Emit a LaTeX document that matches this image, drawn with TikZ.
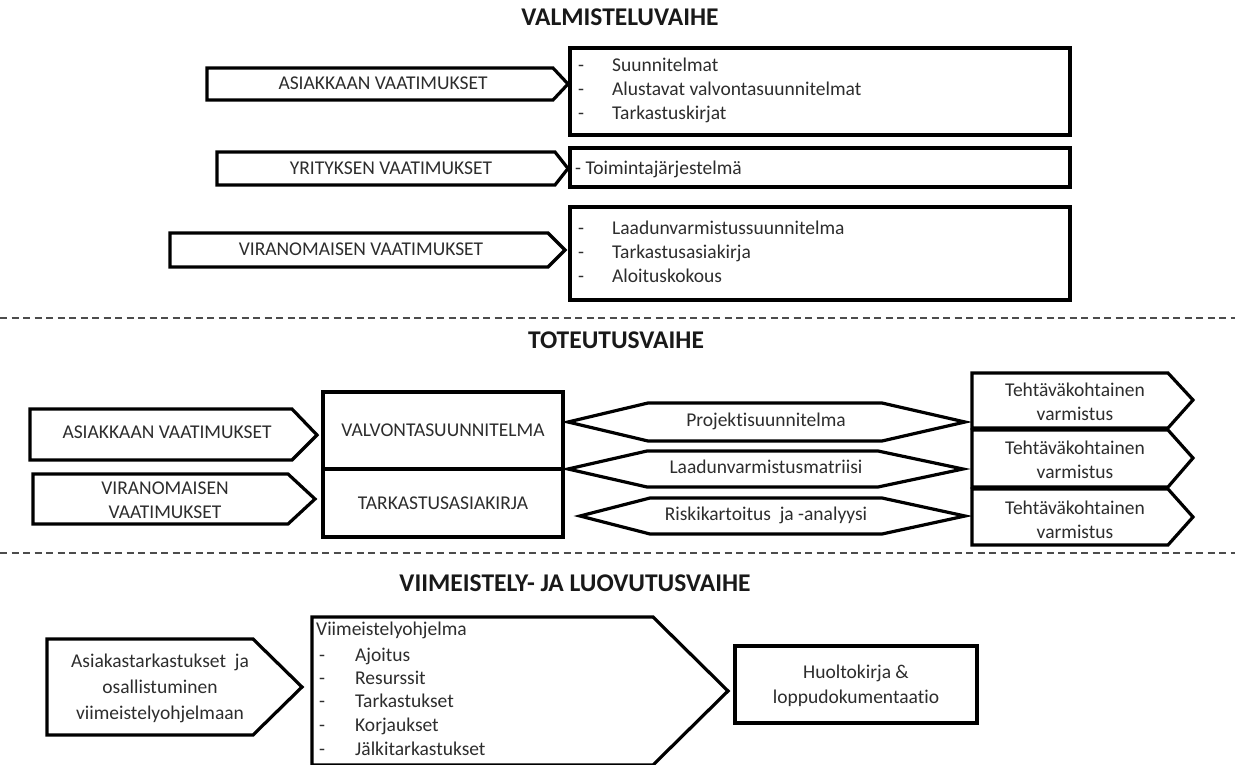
\documentclass[tikz,border=0pt]{standalone}
\usepackage{fontspec}
\setmainfont[Ligatures=NoCommon]{Carlito}
\definecolor{txtgray}{RGB}{45,45,45}
% pentagon arrow: left, top, shoulder x, tip x, tip y, bottom
\newcommand\pentarrow[6]{%
  \draw[outline] (#1,#2) -- (#3,#2) -- (#4,#5) -- (#3,#6) -- (#1,#6) -- cycle;}
% hexagon: left tip x, left tip y, left shoulder, right shoulder, right tip x, top, bottom
\newcommand\hexshape[7]{%
  \draw[outline] (#1,#2) -- (#3,#6) -- (#4,#6) -- (#5,#2) -- (#4,#7) -- (#3,#7) -- cycle;}
\begin{document}
\begin{tikzpicture}[x=1pt,y=-1pt,
  outline/.style={draw=black,line width=3.2pt,fill=white,line join=miter},
  lbl/.style={inner sep=0pt,font=\fontsize{19.5}{24.5}\selectfont,text=txtgray,align=center},
  one/.style={lbl,text height=13pt,text depth=4pt},
  item/.style={one,anchor=west},
  title/.style={inner sep=0pt,font=\bfseries\fontsize{25.5}{30}\selectfont,text=black!90,text height=17pt,text depth=5pt},
  sep/.style={draw=black!70,line width=1.3pt,dash pattern=on 7pt off 4.5pt}]
\useasboundingbox (0,0) rectangle (1235,765);

% ---------- preparation phase ----------
\node[title] (t1) at (620,20) {VALMISTELUVAIHE};

\pentarrow{207}{68}{553}{568}{84}{100}
\pentarrow{217}{152}{555}{568}{168.5}{185}
\pentarrow{170}{233}{548}{565}{250}{267}
\draw[outline] (570,48) rectangle (1070,135);
\draw[outline] (570,148) rectangle (1070,187);
\draw[outline] (570,207) rectangle (1070,300);

\node[one] (p1) at (383,85) {ASIAKKAAN VAATIMUKSET};
\node[one] (p2) at (391,170) {YRITYKSEN VAATIMUKSET};
\node[one] (p3) at (361,251) {VIRANOMAISEN VAATIMUKSET};

\node[item] (d11) at (578,67) {-};
\node[item] (d12) at (578,91) {-};
\node[item] (d13) at (578,115) {-};
\node[item] (i11) at (612,67) {Suunnitelmat};
\node[item] (i12) at (612,91) {Alustavat valvontasuunnitelmat};
\node[item] (i13) at (612,115) {Tarkastuskirjat};

\node[item] (i21) at (575,170) {- Toimintajärjestelmä};

\node[item] (d31) at (578,230) {-};
\node[item] (d32) at (578,254) {-};
\node[item] (d33) at (578,278) {-};
\node[item] (i31) at (612,230) {Laadunvarmistussuunnitelma};
\node[item] (i32) at (612,254) {Tarkastusasiakirja};
\node[item] (i33) at (612,278) {Aloituskokous};

\draw[sep] (0,318) -- (1235,318);

% ---------- implementation phase ----------
\node[title] (t2) at (616,342) {TOTEUTUSVAIHE};

\pentarrow{30}{409}{292}{317}{435}{460}
\pentarrow{33}{474}{288}{315}{499}{524}
\node[one] (m1) at (167,434) {ASIAKKAAN VAATIMUKSET};
\node[lbl] (m2) at (165,500) {VIRANOMAISEN\\VAATIMUKSET};

\draw[outline] (323,392) rectangle (563,469);
\draw[outline] (323,469) rectangle (563,537);
\node[one] (v1) at (443,432) {VALVONTASUUNNITELMA};
\node[one] (v2) at (443,505) {TARKASTUSASIAKIRJA};

\hexshape{568}{422}{648}{882}{965}{403}{441}
\hexshape{568}{469}{647}{878}{963}{451}{487}
\hexshape{580}{516}{650}{882}{965}{498}{534}
\node[one] (h1) at (766,422) {Projektisuunnitelma};
\node[one] (h2) at (766,469) {Laadunvarmistusmatriisi};
\node[one] (h3) at (766,516) {Riskikartoitus\ \ ja -analyysi};

\pentarrow{972}{373}{1168}{1193}{400}{428}
\pentarrow{972}{430}{1168}{1193}{458}{487}
\pentarrow{972}{489}{1168}{1193}{517}{545}
\node[lbl] (r1) at (1075,402) {Tehtäväkohtainen\\varmistus};
\node[lbl] (r2) at (1075,460) {Tehtäväkohtainen\\varmistus};
\node[lbl] (r3) at (1075,520) {Tehtäväkohtainen\\varmistus};

\draw[sep] (0,553) -- (1235,553);

% ---------- finishing and handover phase ----------
\node[title] (t3) at (575,585) {VIIMEISTELY- JA LUOVUTUSVAIHE};

\pentarrow{47}{639}{253}{302}{687}{735}
\node[lbl,font=\fontsize{19.5}{26}\selectfont] (b1) at (160,688)
  {Asiakastarkastukset\ \ ja\\osallistuminen\\viimeistelyohjelmaan};

\pentarrow{312}{617}{653}{728}{691}{765}
\node[item] (f0) at (316,631) {Viimeistelyohjelma};
\node[item] (fd1) at (319,657) {-};
\node[item] (fd2) at (319,680) {-};
\node[item] (fd3) at (319,703) {-};
\node[item] (fd4) at (319,727) {-};
\node[item] (fd5) at (319,751) {-};
\node[item] (f1) at (355,657) {Ajoitus};
\node[item] (f2) at (355,680) {Resurssit};
\node[item] (f3) at (355,703) {Tarkastukset};
\node[item] (f4) at (355,727) {Korjaukset};
\node[item] (f5) at (355,751) {Jälkitarkastukset};

\draw[outline] (735,646) rectangle (977,723);
\node[lbl] (hk) at (856,686) {Huoltokirja \&\\loppudokumentaatio};
\end{tikzpicture}
\end{document}
